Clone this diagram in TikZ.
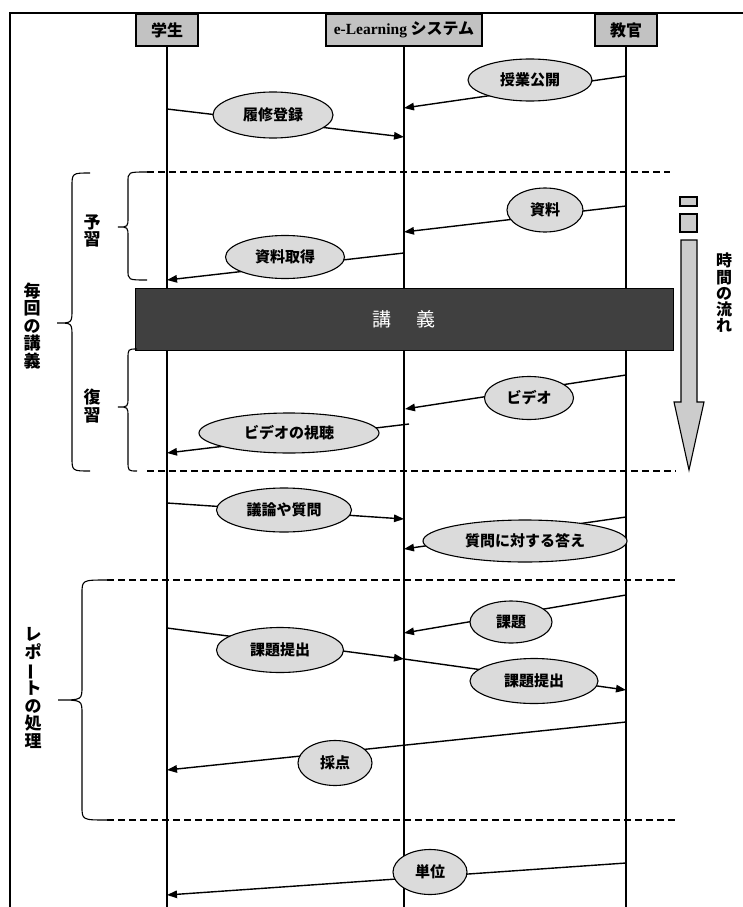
\documentclass[tikz,border=0pt]{standalone}
\usepackage{fontspec}
\setmainfont{Liberation Serif}
\newfontfamily\jp{Noto Sans CJK JP}
\usetikzlibrary{arrows.meta,shapes.geometric}

\definecolor{headgray}{gray}{0.76}
\definecolor{bubblegray}{gray}{0.86}
\definecolor{lecturegray}{gray}{0.25}
\definecolor{flowgray}{gray}{0.80}

% curly brace opening to the right: end x, bar x, tip x, top y, tip y, bottom y
\newcommand\sidebrace[7]{%
  \draw[bracestyle] (#1,#4) .. controls (#2,#4) .. (#2,#4+#7)
    -- (#2,#5-#7) .. controls (#2,#5) .. (#3,#5)
    .. controls (#2,#5) .. (#2,#5+#7)
    -- (#2,#6-#7) .. controls (#2,#6) .. (#1,#6);}

\begin{document}
\begin{tikzpicture}[x=1pt,y=-1pt,
  head/.style={draw, line width=1.1pt, fill=headgray, minimum height=32, inner sep=0,
    font=\jp\bfseries\fontsize{16}{16}\selectfont},
  lifeline/.style={line width=1.1pt},
  msg/.style={line width=1.4pt, -{Triangle[length=10pt,width=7.5pt]}},
  bubble/.style={ellipse, draw, line width=1.1pt, fill=bubblegray, inner sep=0,
    font=\jp\bfseries\fontsize{15}{15}\selectfont},
  sep/.style={line width=1.1pt, dash pattern=on 7pt off 4pt},
  bracestyle/.style={line width=1.1pt},
  vlabel/.style={align=center, inner sep=0, font=\jp\bfseries\fontsize{17}{17.5}\selectfont},
  flow/.style={draw, line width=1.1pt, fill=flowgray}]

\useasboundingbox (0,0) rectangle (743,907);

% outer frame (top and left edges)
\draw[line width=1.2pt] (10,907) -- (10,13) -- (743,13);

% participants
\node[head, minimum width=62]  (stu) at (167,30) {学生};
\node[head, minimum width=156] (sys) at (404,30) {{\rmfamily\bfseries\fontsize{15.5}{15.5}\selectfont e-Learning} システム};
\node[head, minimum width=62]  (tea) at (626,30) {教官};

\coordinate (stuEnd) at (167,907);
\coordinate (sysEnd) at (404,907);
\coordinate (teaEnd) at (626,907);
\draw[lifeline] (stu.south) -- (stuEnd);
\draw[lifeline] (sys.south) -- (sysEnd);
\draw[lifeline] (tea.south) -- (teaEnd);

% message end points on the lifelines
\coordinate (t1) at (626,76);  \coordinate (e1) at (404,108);
\coordinate (s2) at (167,109); \coordinate (e2) at (404,137);
\coordinate (t3) at (626,206); \coordinate (e3) at (404,232);
\coordinate (e4) at (404,253); \coordinate (s4) at (167,280);
\coordinate (t5) at (626,375); \coordinate (e5) at (405,409);
\coordinate (e6) at (409,424); \coordinate (s6) at (167,453);
\coordinate (s7) at (167,503); \coordinate (e7) at (404,519);
\coordinate (t8) at (626,517); \coordinate (e8) at (404,549);
\coordinate (t9) at (626,595); \coordinate (e9) at (404,633);
\coordinate (s10) at (167,628); \coordinate (e10) at (404,659);
\coordinate (e11) at (404,659); \coordinate (t11) at (626,690);
\coordinate (t12) at (626,722); \coordinate (s12) at (167,770);
\coordinate (t13) at (626,863); \coordinate (s13) at (167,895);

\draw[msg] (t1) -- (e1);
\draw[msg] (s2) -- (e2);
\draw[msg] (t3) -- (e3);
\draw[msg] (e4) -- (s4);
\draw[msg] (t5) -- (e5);
\draw[msg] (e6) -- (s6);
\draw[msg] (s7) -- (e7);
\draw[msg] (t8) -- (e8);
\draw[msg] (t9) -- (e9);
\draw[msg] (s10) -- (e10);
\draw[msg] (e11) -- (t11);
\draw[msg] (t12) -- (s12);
\draw[msg] (t13) -- (s13);

% message labels
\node[bubble, minimum width=124, minimum height=42] (m1) at (530,80) {授業公開};
\node[bubble, minimum width=120, minimum height=46] (m2) at (273,115) {履修登録};
\node[bubble, minimum width=76,  minimum height=44] (m3) at (545,210) {資料};
\node[bubble, minimum width=119, minimum height=43] (m4) at (285,257) {資料取得};
\node[bubble, minimum width=89,  minimum height=43] (m5) at (529,398) {ビデオ};
\node[bubble, minimum width=180, minimum height=40] (m6) at (289,433) {ビデオの視聴};
\node[bubble, minimum width=135, minimum height=44] (m7) at (284,510) {議論や質問};
\node[bubble, minimum width=204, minimum height=42] (m8) at (525,541) {質問に対する答え};
\node[bubble, minimum width=82,  minimum height=42] (m9) at (511,622) {課題};
\node[bubble, minimum width=127, minimum height=45] (m10) at (280,650) {課題提出};
\node[bubble, minimum width=128, minimum height=45] (m11) at (534,681) {課題提出};
\node[bubble, minimum width=74,  minimum height=45] (m12) at (335,763) {採点};
\node[bubble, minimum width=74,  minimum height=45] (m13) at (430,872) {単位};

% lecture bar
\node[draw, line width=1pt, fill=lecturegray, minimum width=538, minimum height=62, inner sep=0,
  text=white, font=\jp\fontsize{19}{19}\selectfont] (lec) at (404,319) {講\hspace{1.3em}義};

% section separators
\draw[sep] (147,172) -- (670,172);
\draw[sep] (147,471) -- (676,471);
\draw[sep] (107,580) -- (676,580);
\draw[sep] (107,820) -- (676,820);

% braces
\sidebrace{147}{128}{118}{172}{227}{280}{10}
\sidebrace{137}{128}{118}{349}{407}{471}{10}
\sidebrace{90}{72}{57}{173}{323}{471}{14}
\sidebrace{107}{82}{58}{580}{700}{820}{14}

% side labels
\node[vlabel] (yoshu) at (92,231) {予\\習};
\node[vlabel] (fukushu) at (92,406) {復\\習};
\node[vlabel] (maikai) at (32,326) {毎\\回\\の\\講\\義};
\node[vlabel] (report) at (33,688) {レ\\ポ\\\rotatebox[origin=c]{90}{ー}\\ト\\の\\処\\理};

% time arrow
\draw[flow] (680,197) rectangle (697,206);
\draw[flow] (680,214) rectangle (697,232);
\draw[flow] (681,240) -- (697,240) -- (697,402) -- (704,402) -- (689,470)
  -- (674,402) -- (681,402) -- cycle;
\node[vlabel, font=\jp\bfseries\fontsize{16}{16.2}\selectfont] (flowtxt) at (724,293) {時\\間\\の\\流\\れ};

\end{tikzpicture}
\end{document}
